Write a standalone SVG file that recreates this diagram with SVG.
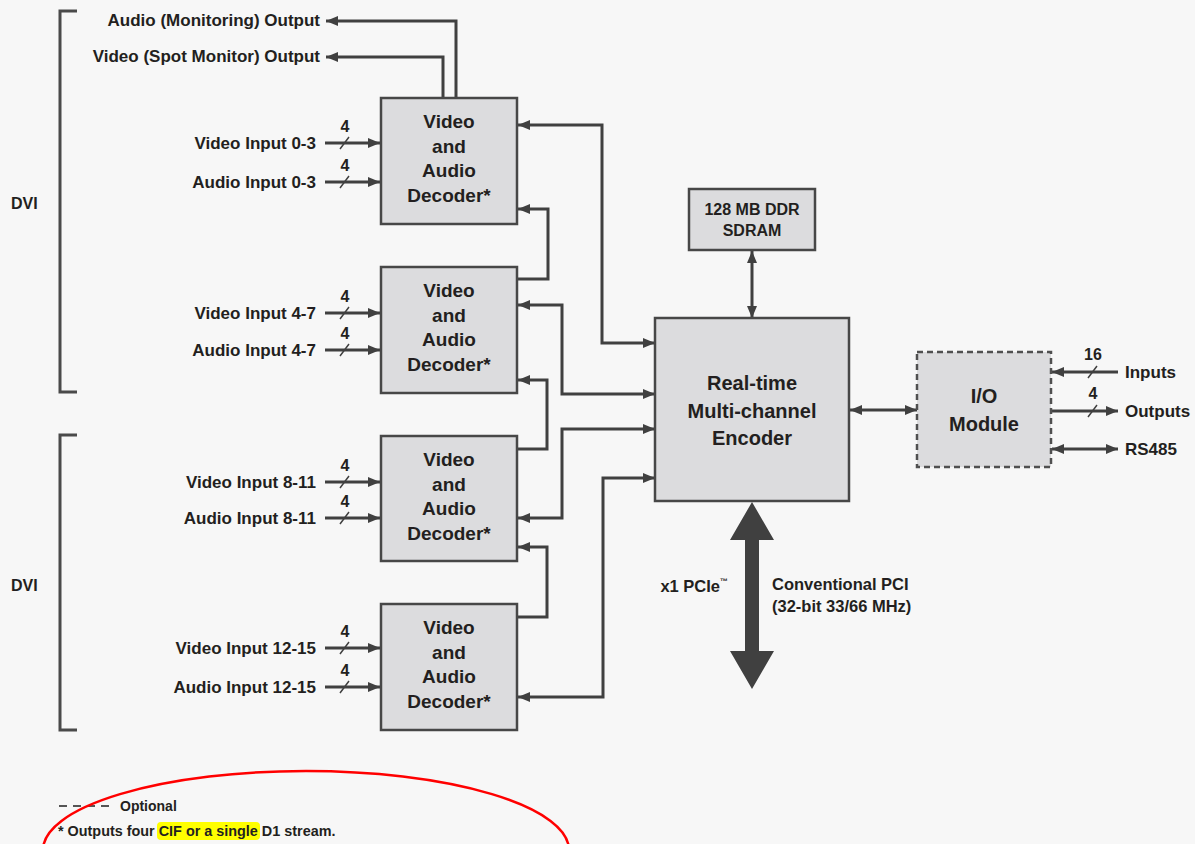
<svg xmlns="http://www.w3.org/2000/svg" width="1195" height="844" viewBox="0 0 1195 844">
<style>
.t{font-family:"Liberation Sans",Arial,sans-serif;font-weight:bold;fill:#231f20}
.lbl{font-size:17px}
.box{fill:#dcdcde;stroke:#474747;stroke-width:2.5}
.bt{font-size:19px;text-anchor:middle}
.c{fill:none;stroke:#404040;stroke-width:3}
.sl{fill:none;stroke:#404040;stroke-width:1.5}
.brk{fill:none;stroke:#4a4a4a;stroke-width:3}
</style>
<defs>
<marker id="ah" viewBox="0 0 12 10" markerUnits="userSpaceOnUse" markerWidth="12" markerHeight="10" refX="12" refY="5" orient="auto-start-reverse">
<path d="M0,0 L12,5 L0,10 z" fill="#404040"/>
</marker>
</defs>
<rect width="1195" height="844" fill="#f7f7f7"/>

<g id="brackets">
<path class="brk" d="M77,11 H60 V392 H77"/>
<path class="brk" d="M77,435 H60 V730 H77"/>
<text class="t" x="11" y="209" font-size="16">DVI</text>
<text class="t" x="11" y="591" font-size="16">DVI</text>
</g>

<g id="connectors">
<path class="c" d="M456,98 V21 H326" marker-end="url(#ah)"/>
<path class="c" d="M443,98 V57 H326" marker-end="url(#ah)"/>
<path class="c" d="M325,143 H380" marker-end="url(#ah)"/>
<path class="c" d="M325,182 H380" marker-end="url(#ah)"/>
<path class="c" d="M325,313 H380" marker-end="url(#ah)"/>
<path class="c" d="M325,350 H380" marker-end="url(#ah)"/>
<path class="c" d="M325,482 H380" marker-end="url(#ah)"/>
<path class="c" d="M325,518 H380" marker-end="url(#ah)"/>
<path class="c" d="M325,648 H380" marker-end="url(#ah)"/>
<path class="c" d="M325,687 H380" marker-end="url(#ah)"/>
<path class="sl" d="M340,149 L349,137 M340,188 L349,176 M340,319 L349,307 M340,356 L349,344 M340,488 L349,476 M340,524 L349,512 M340,654 L349,642 M340,693 L349,681"/>
<path class="c" d="M518,125 H602 V343 H655" marker-start="url(#ah)" marker-end="url(#ah)"/>
<path class="c" d="M518,305 H562 V394 H655" marker-start="url(#ah)" marker-end="url(#ah)"/>
<path class="c" d="M518,518 H562 V429 H655" marker-start="url(#ah)" marker-end="url(#ah)"/>
<path class="c" d="M518,697 H603 V478 H655" marker-start="url(#ah)" marker-end="url(#ah)"/>
<path class="c" d="M518,279 H548 V209 H518" marker-end="url(#ah)"/>
<path class="c" d="M518,449 H547 V380 H518" marker-end="url(#ah)"/>
<path class="c" d="M518,617 H547 V547 H518" marker-end="url(#ah)"/>
<path class="c" d="M752,251 V318" marker-start="url(#ah)" marker-end="url(#ah)"/>
<path class="c" d="M850,410 H917" marker-start="url(#ah)" marker-end="url(#ah)"/>
<path class="c" d="M1118,372 H1052" marker-end="url(#ah)"/>
<path class="c" d="M1052,411 H1118" marker-end="url(#ah)"/>
<path class="c" d="M1052,449 H1118" marker-start="url(#ah)" marker-end="url(#ah)"/>
<path class="sl" d="M1088,378 L1097,366 M1088,417 L1097,405"/>
<polygon points="752,502 774,540 759,540 759,651 774,651 752,689 730,651 745,651 745,540 730,540" fill="#404040"/>
</g>

<g id="labels">
<text class="t lbl" x="320" y="26" text-anchor="end">Audio (Monitoring) Output</text>
<text class="t lbl" x="320" y="62" text-anchor="end">Video (Spot Monitor) Output</text>
<text class="t lbl" x="316" y="149" text-anchor="end">Video Input 0-3</text>
<text class="t lbl" x="316" y="188" text-anchor="end">Audio Input 0-3</text>
<text class="t lbl" x="316" y="319" text-anchor="end">Video Input 4-7</text>
<text class="t lbl" x="316" y="356" text-anchor="end">Audio Input 4-7</text>
<text class="t lbl" x="316" y="488" text-anchor="end">Video Input 8-11</text>
<text class="t lbl" x="316" y="524" text-anchor="end">Audio Input 8-11</text>
<text class="t lbl" x="316" y="654" text-anchor="end">Video Input 12-15</text>
<text class="t lbl" x="316" y="693" text-anchor="end">Audio Input 12-15</text>
<g text-anchor="middle" font-size="16">
<text class="t" x="345" y="132">4</text>
<text class="t" x="345" y="171">4</text>
<text class="t" x="345" y="302">4</text>
<text class="t" x="345" y="339">4</text>
<text class="t" x="345" y="471">4</text>
<text class="t" x="345" y="507">4</text>
<text class="t" x="345" y="637">4</text>
<text class="t" x="345" y="676">4</text>
<text class="t" x="1093" y="360">16</text>
<text class="t" x="1093" y="399">4</text>
</g>
<text class="t lbl" x="1125" y="378">Inputs</text>
<text class="t lbl" x="1125" y="417">Outputs</text>
<text class="t lbl" x="1125" y="455">RS485</text>
<text class="t" x="728" y="592" font-size="16.5" text-anchor="end">x1 PCIe<tspan font-size="8" dy="-8">™</tspan></text>
<text class="t" x="772" y="590" font-size="16.5">Conventional PCI</text>
<text class="t" x="772" y="612" font-size="16.5">(32-bit 33/66 MHz)</text>
</g>

<g id="decoder1">
<rect class="box" x="381" y="98" width="136" height="126"/>
<text class="t bt" x="449" y="128">Video</text>
<text class="t bt" x="449" y="153">and</text>
<text class="t bt" x="449" y="177">Audio</text>
<text class="t bt" x="449" y="202">Decoder*</text>
</g>
<g id="decoder2">
<rect class="box" x="381" y="267" width="136" height="126"/>
<text class="t bt" x="449" y="297">Video</text>
<text class="t bt" x="449" y="322">and</text>
<text class="t bt" x="449" y="346">Audio</text>
<text class="t bt" x="449" y="371">Decoder*</text>
</g>
<g id="decoder3">
<rect class="box" x="381" y="436" width="136" height="125"/>
<text class="t bt" x="449" y="466">Video</text>
<text class="t bt" x="449" y="491">and</text>
<text class="t bt" x="449" y="515">Audio</text>
<text class="t bt" x="449" y="540">Decoder*</text>
</g>
<g id="decoder4">
<rect class="box" x="381" y="604" width="136" height="126"/>
<text class="t bt" x="449" y="634">Video</text>
<text class="t bt" x="449" y="659">and</text>
<text class="t bt" x="449" y="683">Audio</text>
<text class="t bt" x="449" y="708">Decoder*</text>
</g>
<g id="sdram">
<rect class="box" x="689" y="189" width="126" height="61"/>
<text class="t" x="752" y="215" font-size="16" text-anchor="middle">128 MB DDR</text>
<text class="t" x="752" y="236" font-size="16" text-anchor="middle">SDRAM</text>
</g>
<g id="encoder">
<rect class="box" x="655" y="318" width="194" height="183"/>
<text class="t" x="752" y="390" font-size="20" text-anchor="middle">Real-time</text>
<text class="t" x="752" y="418" font-size="20" text-anchor="middle">Multi-channel</text>
<text class="t" x="752" y="445" font-size="20" text-anchor="middle">Encoder</text>
</g>
<g id="io">
<rect x="917" y="352" width="134" height="115" fill="#dcdcde" stroke="#505050" stroke-width="2.5" stroke-dasharray="6,4"/>
<text class="t" x="984" y="403" font-size="20" text-anchor="middle">I/O</text>
<text class="t" x="984" y="431" font-size="20" text-anchor="middle">Module</text>
</g>

<g id="legend">
<path d="M59,806 H110" stroke="#555" stroke-width="2" stroke-dasharray="8,6"/>
<text class="t" x="120" y="811" font-size="14">Optional</text>
<rect x="157" y="822" width="103" height="18" rx="4" fill="#ffff00"/>
<text class="t" x="58" y="836" font-size="14.4">* Outputs four CIF or a single D1 stream.</text>
<ellipse cx="306" cy="850" rx="263" ry="79" fill="none" stroke="#ff0000" stroke-width="2.5"/>
</g>
</svg>
